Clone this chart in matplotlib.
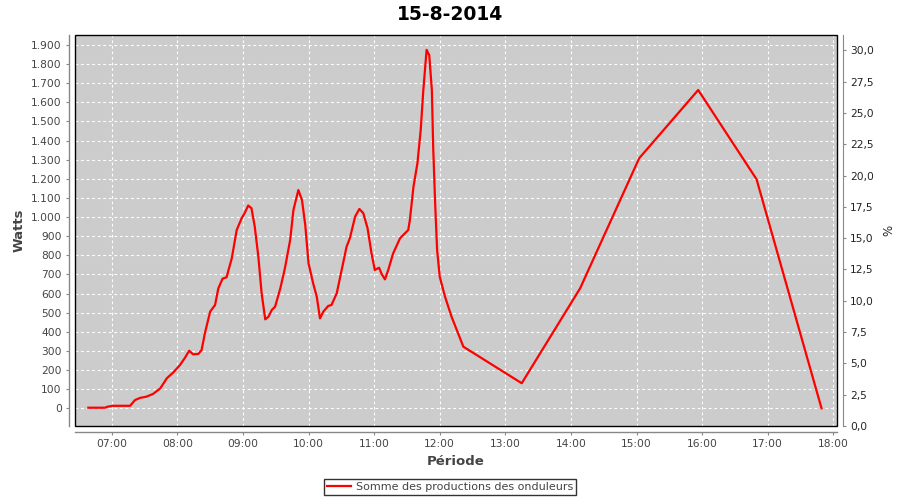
import matplotlib
matplotlib.use("Agg")
import matplotlib.pyplot as plt
from matplotlib.ticker import FuncFormatter, FixedLocator, MultipleLocator
from matplotlib.patches import Rectangle

# Data: time (decimal hours) and power (W)
hours = [6.643, 6.90, 6.93, 7.02, 7.28, 7.355, 7.43, 7.53, 7.63, 7.74, 7.84, 7.94,
         8.04, 8.12, 8.18, 8.24, 8.32, 8.37, 8.42, 8.50, 8.575, 8.625, 8.69, 8.75,
         8.83, 8.905, 8.98, 9.03, 9.08, 9.13, 9.18, 9.235, 9.285, 9.34, 9.39, 9.44,
         9.49, 9.57, 9.64, 9.72, 9.77, 9.845, 9.90, 9.95, 10.0, 10.07, 10.125, 10.175,
         10.225, 10.30, 10.35, 10.43, 10.505, 10.58, 10.63, 10.71, 10.775, 10.835,
         10.90, 10.96, 11.01, 11.075, 11.115, 11.165, 11.215, 11.29, 11.395, 11.52,
         11.545, 11.60, 11.66, 11.71, 11.75, 11.80, 11.84, 11.88, 11.90, 11.93, 11.96,
         12.00, 12.08, 12.18, 12.28, 12.36, 13.25, 14.14, 15.04, 15.94, 16.83, 17.82]
watts = [3, 3, 8, 13, 13, 43, 54, 61, 75, 104, 157, 188,
         226, 266, 301, 282, 284, 305, 392, 505, 540, 627, 678, 685,
         784, 932, 993, 1023, 1060, 1046, 950, 793, 601, 465, 479, 514,
         531, 627, 732, 880, 1037, 1141, 1089, 958, 758, 654, 584, 470,
         505, 535, 540, 601, 723, 845, 889, 1002, 1042, 1020,
         941, 810, 723, 735, 702, 674, 723, 810, 889, 932,
         985, 1159, 1281, 1455, 1664, 1874, 1846, 1664, 1368, 1072, 828,
         688, 584, 479, 392, 322, 131, 627, 1307, 1664, 1197, 0]

x_ticks = list(range(7, 19))
x_tick_labels = ["%02d:00" % h for h in x_ticks]
series_label = "Somme des productions des onduleurs"
title = "15-8-2014"

fig = plt.figure(figsize=(9, 5), dpi=100)
ax = fig.add_axes([75/900, 1-426/500, (837-75)/900, (426-35.3)/500])
ax.set_facecolor("#cccccc")

ax.plot(hours, watts, color="#ff0000", lw=1.6, label=series_label, zorder=3)

ax.set_xlim(6.44, 18.056)
ax.set_ylim(-92.6, 1950)

ax.xaxis.set_major_locator(FixedLocator(x_ticks))
ax.set_xticklabels(x_tick_labels)
ax.yaxis.set_major_locator(MultipleLocator(100))
ax.yaxis.set_major_formatter(FuncFormatter(lambda v, p: f"{int(round(v)):,}".replace(",", ".")))
ax.set_ylim(-92.6, 1950)

ax.grid(True, color="white", lw=0.8, linestyle=(0, (2.5, 2.5)), zorder=1)

gray = "#888888"
lab = "#444444"
for s in ["top", "right"]:
    ax.spines[s].set_visible(False)
for s in ["left", "bottom"]:
    ax.spines[s].set_position(("outward", 4))
    ax.spines[s].set_color(gray)
    ax.spines[s].set_linewidth(1.0)
ax.tick_params(axis="both", direction="out", length=2.5, width=0.8, color=gray,
               labelcolor=lab, labelsize=7.7, pad=3)

ax.add_patch(Rectangle((0, 0), 1, 1, transform=ax.transAxes, fill=False,
                       edgecolor="black", lw=1.0, clip_on=False, zorder=5))

ax2 = ax.twinx()
ax2.set_ylim(0, 31.2)
ax2.yaxis.set_major_locator(MultipleLocator(2.5))
ax2.yaxis.set_major_formatter(FuncFormatter(lambda v, p: f"{v:.1f}".replace(".", ",")))
for s in ["top", "left", "bottom"]:
    ax2.spines[s].set_visible(False)
ax2.spines["right"].set_position(("outward", 4))
ax2.spines["right"].set_color(gray)
ax2.tick_params(axis="y", direction="out", length=2.5, width=0.8, color=gray,
                labelcolor="#222222", labelsize=7.7, pad=3)
ax2.set_ylabel("%", fontsize=8.5, color="#222222", labelpad=6)

ax.set_xlabel("Période", fontsize=9.5, fontweight="bold", color=lab, labelpad=4)
ax.set_ylabel("Watts", fontsize=9.5, fontweight="bold", color=lab, labelpad=4)

fig.text(0.5, 1-15/500, title, ha="center", va="center", fontsize=13.5, fontweight="bold", color="black")

leg = fig.legend(loc="center", bbox_to_anchor=(450/900, 1-487/500), frameon=True,
                 fontsize=8, fancybox=False, handlelength=2.2, handletextpad=0.4,
                 borderpad=0.3, labelcolor=lab)
leg.get_frame().set_edgecolor("black")
leg.get_frame().set_linewidth(1.0)

fig.savefig("out.png", dpi=100, facecolor="white")
